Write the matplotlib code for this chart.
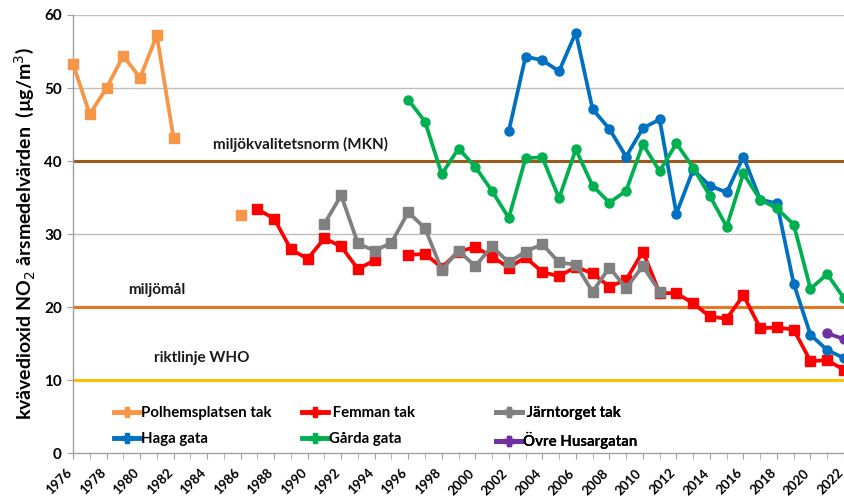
import numpy as np
import matplotlib
matplotlib.use("Agg")
import matplotlib.pyplot as plt
from matplotlib.lines import Line2D
from matplotlib.transforms import ScaledTranslation

plt.rcParams['font.family'] = ['Lato', 'DejaVu Sans']

nan = np.nan
polhem_years = list(range(1976, 1987))
polhem_vals = [53.3, 46.4, 50.0, 54.4, 51.4, 57.2, 43.1, nan, nan, nan, 32.6]

femman_years = list(range(1987, 2023))
femman_vals = [33.4, 32.1, 27.9, 26.6, 29.4, 28.3, 25.2, 26.4, nan,
               27.1, 27.3, 25.4, 27.6, 28.2, 26.9, 25.4, 26.8, 24.8, 24.2,
               25.5, 24.6, 22.8, 23.7, 27.6, 21.9, 21.9, 20.5, 18.7, 18.4,
               21.6, 17.1, 17.2, 16.9, 12.6, 12.7, 11.4]

jarn_years = list(range(1991, 2012))
jarn_vals = [31.4, 35.3, 28.7, 27.7, 28.8, 33.0, 30.8, 25.1, 27.7, 25.6,
             28.3, 26.1, 27.6, 28.6, 26.1, 25.8, 22.1, 25.4, 22.6, 25.6, 22.1]

haga_years = list(range(2002, 2023))
haga_vals = [44.1, 54.3, 53.8, 52.3, 57.6, 47.1, 44.4, 40.6, 44.5, 45.7,
             32.8, 38.8, 36.6, 35.7, 40.6, 34.7, 34.2, 23.2, 16.2, 14.1, 13.0]

garda_years = list(range(1996, 2023))
garda_vals = [48.4, 45.4, 38.2, 41.7, 39.2, 35.9, 32.2, 40.4, 40.5, 34.9,
              41.6, 36.6, 34.3, 35.9, 42.3, 38.6, 42.4, 39.1, 35.2, 31.0,
              38.3, 34.7, 33.5, 31.3, 22.5, 24.5, 21.2]

ovre_years = [2021, 2022]
ovre_vals = [16.4, 15.6]

ref_values = [40, 20, 10]
ref_labels = ["miljökvalitetsnorm (MKN)", "miljömål", "riktlinje WHO"]
ref_colors = ["#9C5A1C", "#E8761E", "#FFC000"]

xtick_years = list(range(1976, 2023, 2))
yticks = [0, 10, 20, 30, 40, 50, 60]

fig = plt.figure(figsize=(8.44, 4.98), dpi=100)
ax = fig.add_axes([73/844, 1-453/498, 771/844, 438/498])

ax.set_xlim(1976, 2022)
ax.set_ylim(0, 60)

for y in yticks[1:]:
    ax.axhline(y, color="#BEBEBE", lw=1.0, zorder=1)

for v, c in zip(ref_values, ref_colors):
    ax.axhline(v, color=c, lw=2.2, zorder=2)

lw = 2.7
series = [
    (polhem_years, polhem_vals, "#F79646", "s", 6.5, "Polhemsplatsen tak"),
    (femman_years, femman_vals, "#FF0000", "s", 7, " Femman tak"),
    (jarn_years, jarn_vals, "#808080", "s", 7, " Järntorget tak"),
    (haga_years, haga_vals, "#0070C0", "o", 6.5, "Haga gata"),
    (garda_years, garda_vals, "#00B050", "o", 6.5, "Gårda gata"),
    (ovre_years, ovre_vals, "#7030A0", "o", 6.5, "Övre Husargatan"),
]
handles = []
for xs, ys, c, m, ms, lab in series:
    ax.plot(xs, ys, color=c, lw=lw, marker=m, markersize=ms, zorder=3,
            clip_on=False)
    handles.append(Line2D([], [], color=c, lw=3.5, marker="P",
                          markersize=7, label=lab))

txt_kw = dict(fontsize=11, fontweight="bold", color="#1a1a1a", ha="center",
              va="center", zorder=4)
ax.text(1989.6, 42.2, ref_labels[0], **txt_kw)
ax.text(1981.0, 22.3, ref_labels[1], **txt_kw)
ax.text(1983.7, 13.0, ref_labels[2], **txt_kw)

# legends (three columns placed as in the reference)
leg_kw = dict(frameon=False, handlelength=1.7, handletextpad=0.1,
              labelspacing=0.8, borderpad=0, borderaxespad=0)
positions = [(114, 406), (302, 406), (496, 406)]
for i, (px, py) in enumerate(positions):
    hs = [handles[i], handles[i + 3]]
    lg = ax.legend(handles=hs, loc="upper left",
                   bbox_to_anchor=(px/844, 1-py/498),
                   bbox_transform=fig.transFigure,
                   prop={"weight": "bold", "size": 10.8}, **leg_kw)
    ax.add_artist(lg)

ax.set_xticks(xtick_years)
ax.set_xticks(range(1976, 2023), minor=True)
ax.set_xticklabels([])
lab_tr = ax.get_xaxis_transform() + ScaledTranslation(-3/100, -18/100, fig.dpi_scale_trans)
for yr in xtick_years:
    ax.text(yr, 0, str(yr), transform=lab_tr, rotation=45, ha="right", va="center",
            rotation_mode="anchor", fontsize=9.5, fontweight="bold",
            clip_on=False)
ax.set_yticks(yticks)
ax.set_yticklabels([str(y) for y in yticks], fontsize=11, fontweight="bold")
ax.tick_params(axis="x", which="both", length=4, color="#A0A0A0", pad=3)
ax.tick_params(axis="y", length=4, color="#A0A0A0", pad=4)

for s in ["top", "right"]:
    ax.spines[s].set_visible(False)
for s in ["left", "bottom"]:
    ax.spines[s].set_color("#A0A0A0")
    ax.spines[s].set_linewidth(1.0)

ax.set_ylabel("kvävedioxid NO$_2$ årsmedelvärden  (µg/m$^3$)", fontsize=14,
              fontweight="bold", labelpad=5)

fig.savefig("out.png", dpi=100)
